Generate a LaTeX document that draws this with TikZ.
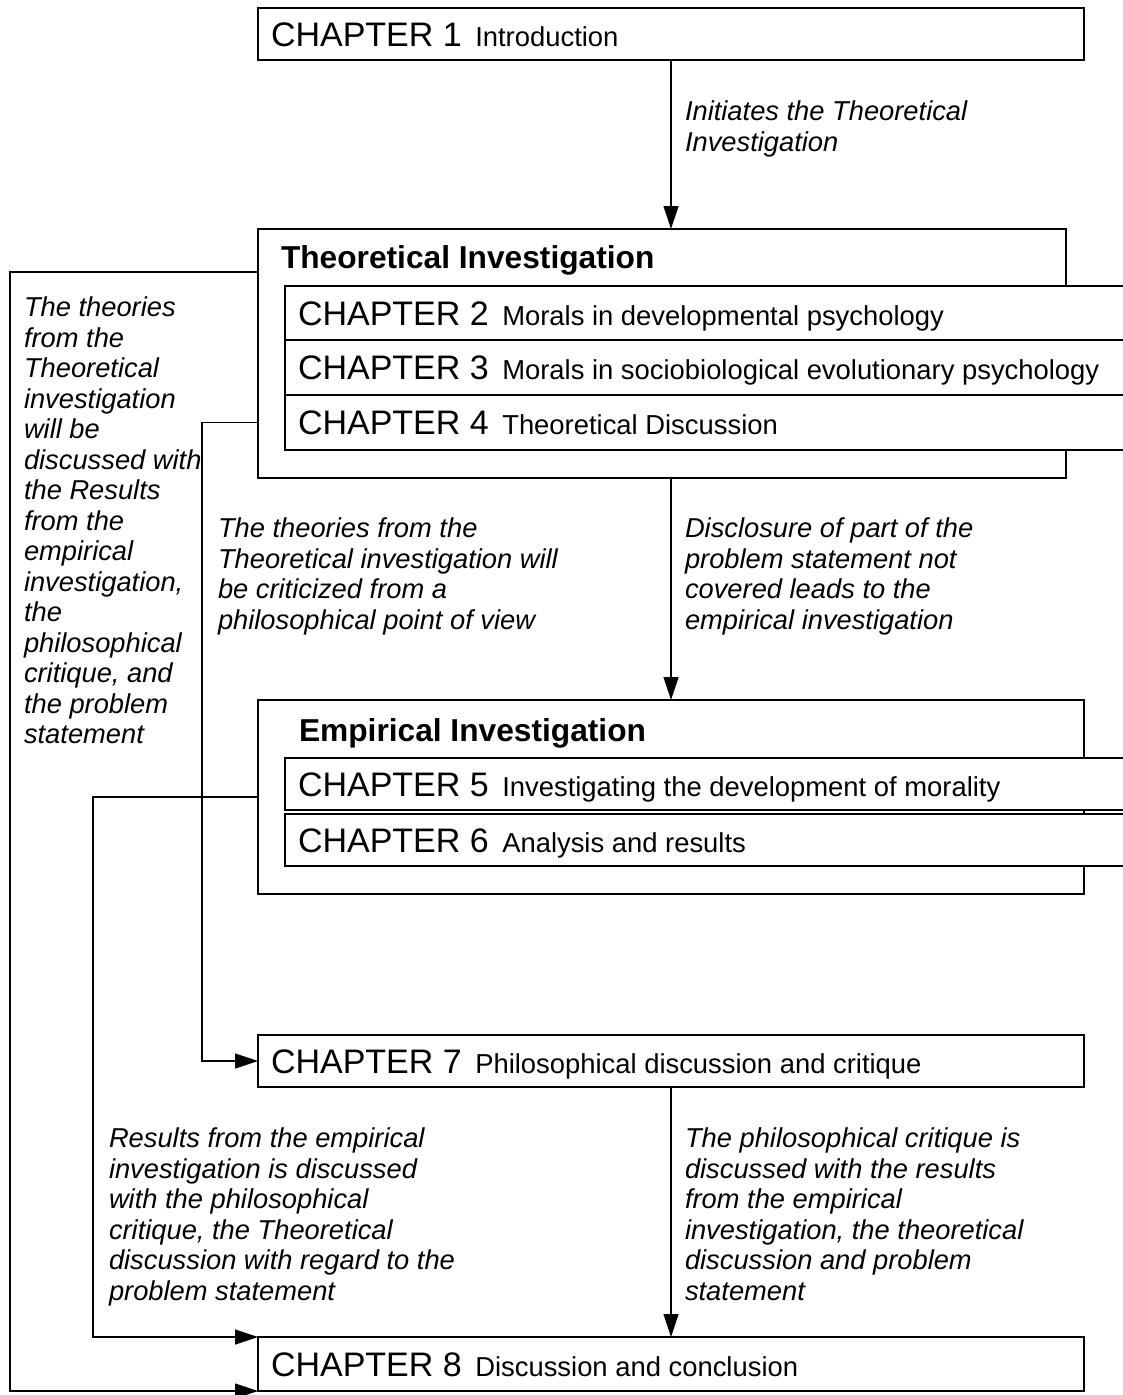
\documentclass[tikz,border=0pt]{standalone}
\usepackage{fontspec}
\setmainfont{Liberation Sans}
\usetikzlibrary{arrows.meta}
\newcommand\chapline[2]{\spaceskip=0pt\xspaceskip=0pt{\fontsize{34}{40}\selectfont CHAPTER #1\ }\hspace{4pt}{\fontsize{27.4}{32}\selectfont #2}}
\begin{document}
\begin{tikzpicture}[x=1pt,y=-1pt,
  every node/.style={inner sep=0pt, outer sep=0pt},
  chapbox/.style={draw, line width=1.2pt, fill=white, anchor=north west, inner xsep=13pt,
    align=left, text height=24.5pt, text depth=0pt},
  widebox/.style={text width=800pt},
  innerbox/.style={text width=819pt},
  groupbox/.style={draw, line width=1.2pt, anchor=north west},
  grouptitle/.style={anchor=base west, font=\fontsize{31.7}{36}\selectfont\bfseries},
  lab/.style={anchor=north west, align=left, font=\fontsize{27.3}{30.5}\selectfont\itshape},
  arr/.style={line width=1.2pt, -{Triangle[length=23pt,width=15pt]}}
]
\useasboundingbox (0,0) rectangle (1123,1395);
\clip (0,0) rectangle (1123,1395);

% Chapter 1
\node[chapbox, widebox, minimum height=52pt] (c1) at (258,8) {\chapline{1}{Introduction}};

% Theoretical investigation
\node[groupbox, minimum width=808pt, minimum height=249pt] (theo) at (258,229) {};
\node[grouptitle] (theot) at (281,268) {Theoretical Investigation};
\node[chapbox, innerbox, minimum height=54pt] (c2) at (285,286) {\chapline{2}{Morals in developmental psychology}};
\node[chapbox, innerbox, minimum height=55pt] (c3) at (285,340) {\chapline{3}{Morals in sociobiological evolutionary psychology}};
\node[chapbox, innerbox, minimum height=55pt] (c4) at (285,395) {\chapline{4}{Theoretical Discussion}};

% Empirical investigation
\node[groupbox, minimum width=826pt, minimum height=194pt] (emp) at (258,700) {};
\node[grouptitle] (empt) at (299,741) {Empirical Investigation};
\node[chapbox, innerbox, minimum height=52pt] (c5) at (285,758) {\chapline{5}{Investigating the development of morality}};
\node[chapbox, innerbox, minimum height=52pt] (c6) at (285,814) {\chapline{6}{Analysis and results}};

% Chapters 7 and 8
\node[chapbox, widebox, minimum height=52pt] (c7) at (258,1035) {\chapline{7}{Philosophical discussion and critique}};
\node[chapbox, widebox, minimum height=54pt] (c8) at (258,1337) {\chapline{8}{Discussion and conclusion}};

% Labels
\node[lab] (l1) at (685,101) {Initiates the Theoretical\\Investigation};
\node[lab] (l2) at (24,297) {The theories\\from the\\Theoretical\\investigation\\will be\\discussed with\\the Results\\from the\\empirical\\investigation,\\the\\philosophical\\critique, and\\the problem\\statement};
\node[lab] (l3) at (218,518) {The theories from the\\Theoretical investigation will\\be criticized from a\\philosophical point of view};
\node[lab] (l4) at (685,518) {Disclosure of part of the\\problem statement not\\covered leads to the\\empirical investigation};
\node[lab] (l5) at (109,1128) {Results from the empirical\\investigation is discussed\\with the philosophical\\critique, the Theoretical\\discussion with regard to the\\problem statement};
\node[lab] (l6) at (685,1128) {The philosophical critique is\\discussed with the results\\from the empirical\\investigation, the theoretical\\discussion and problem\\statement};

% Bend points
\coordinate (ka) at (10,272);
\coordinate (kb) at (202,0);
\coordinate (kc) at (93,797);

% Connectors
\draw[arr] (c1.south) -- (c1.south |- theo.north);
\draw[arr] (c1.south |- theo.south) -- (c1.south |- emp.north);
\draw[arr] (c7.south) -- (c8.north);
\draw[arr] (theo.west |- ka) -- (ka) |- (c8.south west);
\draw[arr] (theo.west |- c4.west) -| (kb |- c7.west) -- (c7.west);
\draw[arr] (emp.west |- kc) -- (kc) |- (c8.north west);
\end{tikzpicture}
\end{document}
